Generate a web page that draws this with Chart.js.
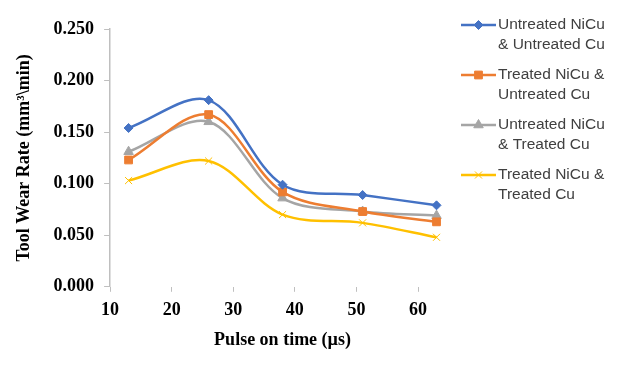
<!DOCTYPE html>
<html>
<head>
<meta charset="utf-8">
<script src="https://cdn.jsdelivr.net/npm/chart.js@4.4.1/dist/chart.umd.min.js"></script>
<style>
  html, body { margin: 0; padding: 0; background: #fff; }
  #wrap { width: 619px; height: 365px; }
</style>
</head>
<body>
<div id="wrap"><canvas id="wearCanvas" width="619" height="365"></canvas></div>
<script>
// pulse on time (us)
var pulseOn = [13, 26, 38, 51, 63];

// tool wear rate (mm3/min)
var untrNiCuUntrCu = [0.154, 0.181, 0.099, 0.089, 0.079];
var trNiCuUntrCu   = [0.123, 0.167, 0.092, 0.073, 0.063];
var untrNiCuTrCu   = [0.131, 0.160, 0.086, 0.073, 0.069];
var trNiCuTrCu     = [0.103, 0.122, 0.070, 0.062, 0.048];

var seriesNames = [
    ['Untreated NiCu', '& Untreated Cu'],
    ['Treated NiCu &', 'Untreated Cu'],
    ['Untreated NiCu', '& Treated Cu'],
    ['Treated NiCu &', 'Treated Cu']
];
var xTicks = [10, 20, 30, 40, 50, 60];

var serifBold = { family: "'Liberation Serif', 'Times New Roman', serif", size: 18, weight: 'bold' };

function toPoints(ys) {
    return pulseOn.map(function(x, i) { return { x: x, y: ys[i] }; });
}

function makeSet(name, ys, color, style, radius, bw) {
    return {
        label: name.join(' '),
        legendLines: name,
        data: toPoints(ys),
        borderColor: color,
        backgroundColor: color,
        pointBackgroundColor: color,
        pointBorderColor: color,
        pointStyle: style,
        pointRadius: radius,
        pointBorderWidth: bw,
        borderWidth: 2.5,
        fill: false,
        tension: 0.33
    };
}

var ctxWear = document.getElementById('wearCanvas').getContext('2d');
var chartWear = new Chart(ctxWear, {
    type: 'line',
    data: {
        datasets: [
            makeSet(seriesNames[0], untrNiCuUntrCu, '#4472C4', 'rectRot', 4.5, 1),
            makeSet(seriesNames[1], trNiCuUntrCu, '#ED7D31', 'rect', 5.5, 1),
            makeSet(seriesNames[2], untrNiCuTrCu, '#A5A5A5', 'triangle', 5.5, 1),
            makeSet(seriesNames[3], trNiCuTrCu, '#FFC000', 'crossRot', 5, 1)
        ]
    },
    options: {
        responsive: false,
        animation: false,
        layout: { padding: { top: 29, right: 164, bottom: 10, left: 10 } },
        plugins: {
            legend: { display: false },
            tooltip: { enabled: false }
        },
        scales: {
            x: {
                type: 'linear',
                min: 10,
                max: 66,
                afterBuildTicks: function(scale) {
                    scale.ticks = xTicks.map(function(v) { return { value: v }; });
                },
                grid: { drawOnChartArea: false, drawTicks: true, tickLength: 5, color: '#BFBFBF' },
                border: { display: false },
                ticks: { color: '#000', font: serifBold, padding: 8, maxRotation: 0 },
                title: { display: true, text: 'Pulse on time (µs)', color: '#000', font: serifBold, padding: { top: 0 } }
            },
            y: {
                min: 0,
                max: 0.25,
                ticks: {
                    stepSize: 0.05,
                    color: '#000',
                    font: serifBold,
                    padding: 10,
                    callback: function(v) { return v.toFixed(3); }
                },
                grid: { drawOnChartArea: false, drawTicks: true, tickLength: 6, color: '#BFBFBF' },
                border: { display: true, color: '#BFBFBF', width: 1.5 },
                title: { display: true, text: 'Tool Wear Rate (mm³\\min)', color: '#000', font: serifBold, padding: { bottom: 8 } }
            }
        }
    },
    plugins: [{
        // legend on the right, two text lines per entry
        id: 'sideLegend',
        afterDraw: function(chart) {
            var ctx = chart.ctx;
            ctx.save();
            chart.data.datasets.forEach(function(ds, i) {
                var y = 25 + i * 50;
                ctx.strokeStyle = ds.borderColor;
                ctx.fillStyle = ds.borderColor;
                ctx.lineWidth = 2.5;
                ctx.beginPath();
                ctx.moveTo(461, y);
                ctx.lineTo(496, y);
                ctx.stroke();
                ctx.lineWidth = ds.pointBorderWidth;
                Chart.helpers.drawPoint(ctx, {
                    pointStyle: ds.pointStyle,
                    radius: ds.pointRadius,
                    borderWidth: ds.pointBorderWidth,
                    rotation: 0
                }, 478.5, y);
                ctx.fillStyle = '#404040';
                ctx.font = "15.5px 'Liberation Sans', Arial, sans-serif";
                ctx.textBaseline = 'middle';
                ds.legendLines.forEach(function(line, k) {
                    ctx.fillText(line, 498, y + k * 20);
                });
            });
            ctx.restore();
        }
    }]
});
</script>
</body>
</html>
